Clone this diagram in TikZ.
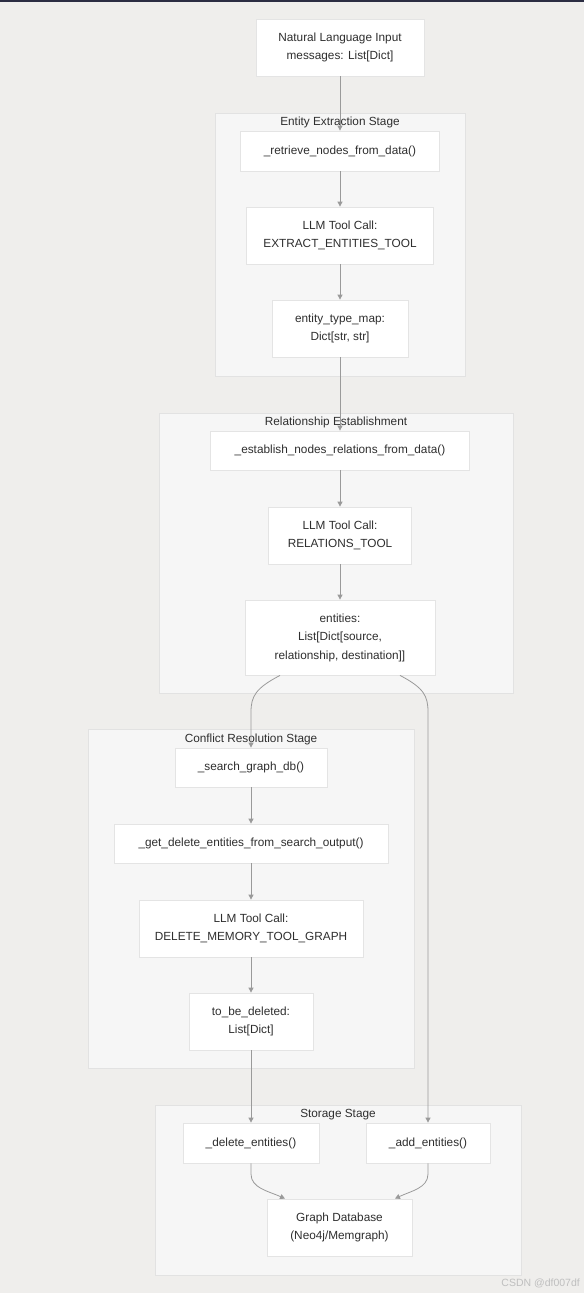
\documentclass[tikz,border=0pt]{standalone}
\usepackage{fontspec}
\setmainfont{Liberation Sans}
\usetikzlibrary{arrows.meta}
\definecolor{bg}{HTML}{EFEEEC}
\definecolor{clfill}{HTML}{F6F6F6}
\definecolor{clline}{HTML}{E2E2E2}
\definecolor{nline}{HTML}{E4E4E4}
\definecolor{edge}{HTML}{9A9A9A}
\definecolor{txt}{HTML}{2E2E2E}
\definecolor{topbar}{HTML}{2B2D42}
\begin{document}
\begin{tikzpicture}[x=1pt,y=-1pt,
  box/.style={draw=nline, line width=0.8pt, fill=white, inner sep=0pt, text=txt,
    font=\fontsize{11.8}{18.5}\selectfont, align=center},
  cluster/.style={draw=clline, line width=0.8pt, fill=clfill},
  ctitle/.style={text=txt, font=\fontsize{11.8}{14}\selectfont, inner sep=0pt},
  flow/.style={draw=edge, line width=0.8pt, -{Triangle[length=5pt,width=5pt]}}]
\fill[bg] (0,0) rectangle (584,1293);
\useasboundingbox (0,0) rectangle (584,1293);
\fill[topbar] (0,0) rectangle (584,2);
% clusters
\draw[cluster] (215,113) rectangle (465,376);
\node[ctitle] (t1) at (340,122) {Entity Extraction Stage};
\draw[cluster] (159,413) rectangle (513,693);
\node[ctitle] (t2) at (336,422) {Relationship Establishment};
\draw[cluster] (88,729) rectangle (414,1068);
\node[ctitle] (t3) at (251,739) {Conflict Resolution Stage};
\draw[cluster] (155,1105) rectangle (521,1275);
\node[ctitle] (t4) at (338,1115) {Storage Stage};
% nodes
\node[box, minimum width=168pt, minimum height=57pt] (inp) at (340,47.5) {Natural Language Input\\messages: List[Dict]};
\node[box, minimum width=199pt, minimum height=40pt] (ret) at (340,151) {\_retrieve\_nodes\_from\_data()};
\node[box, minimum width=187pt, minimum height=57pt] (llm1) at (340,235.5) {LLM Tool Call:\\EXTRACT\_ENTITIES\_TOOL};
\node[box, minimum width=136pt, minimum height=57pt] (etm) at (340,328.5) {entity\_type\_map:\\Dict[str, str]};
\node[box, minimum width=259pt, minimum height=39pt] (est) at (340,450.5) {\_establish\_nodes\_relations\_from\_data()};
\node[box, minimum width=143pt, minimum height=57pt] (llm2) at (340,535.5) {LLM Tool Call:\\RELATIONS\_TOOL};
\node[box, minimum width=190pt, minimum height=75pt] (ent) at (340,637.5) {entities:\\List[Dict[source,\\relationship, destination]]};
\node[box, minimum width=152pt, minimum height=39pt] (srch) at (251,767.5) {\_search\_graph\_db()};
\node[box, minimum width=274pt, minimum height=39pt] (gdel) at (251,843.5) {\_get\_delete\_entities\_from\_search\_output()};
\node[box, minimum width=224pt, minimum height=57pt] (llm3) at (251,928.5) {LLM Tool Call:\\DELETE\_MEMORY\_TOOL\_GRAPH};
\node[box, minimum width=124pt, minimum height=57pt] (tbd) at (251,1021.5) {to\_be\_deleted:\\List[Dict]};
\node[box, minimum width=136pt, minimum height=40pt] (del) at (251,1143) {\_delete\_entities()};
\node[box, minimum width=124pt, minimum height=40pt] (add) at (428,1143) {\_add\_entities()};
\node[box, minimum width=145pt, minimum height=57pt] (gdb) at (339.5,1227.5) {Graph Database\\(Neo4j/Memgraph)};
% edges
\draw[flow] (inp.south) -- (ret.north);
\draw[flow] (ret.south) -- (llm1.north);
\draw[flow] (llm1.south) -- (etm.north);
\draw[flow] (etm.south) -- (est.north);
\draw[flow] (est.south) -- (llm2.north);
\draw[flow] (llm2.south) -- (ent.north);
\draw[flow] (ent.south -| 280,0) .. controls (256,688) and (251,696) .. (251,712) -- (srch.north);
\draw[flow] (ent.south -| 400,0) .. controls (424,688) and (428,696) .. (428,712) -- (add.north);
\draw[flow] (srch.south) -- (gdel.north);
\draw[flow] (gdel.south) -- (llm3.north);
\draw[flow] (llm3.south) -- (tbd.north);
\draw[flow] (tbd.south) -- (del.north);
\draw[flow] (del.south) -- (251,1174) .. controls (251,1188) and (268,1191) .. (gdb.north -| 285,0);
\draw[flow] (add.south) -- (428,1174) .. controls (428,1188) and (411,1191) .. (gdb.north -| 395,0);
% watermark
\node[text=black!25, font=\fontsize{10.5}{12}\selectfont, anchor=east, inner sep=0pt] (wm) at (580,1283) {CSDN @df007df};
\end{tikzpicture}
\end{document}
